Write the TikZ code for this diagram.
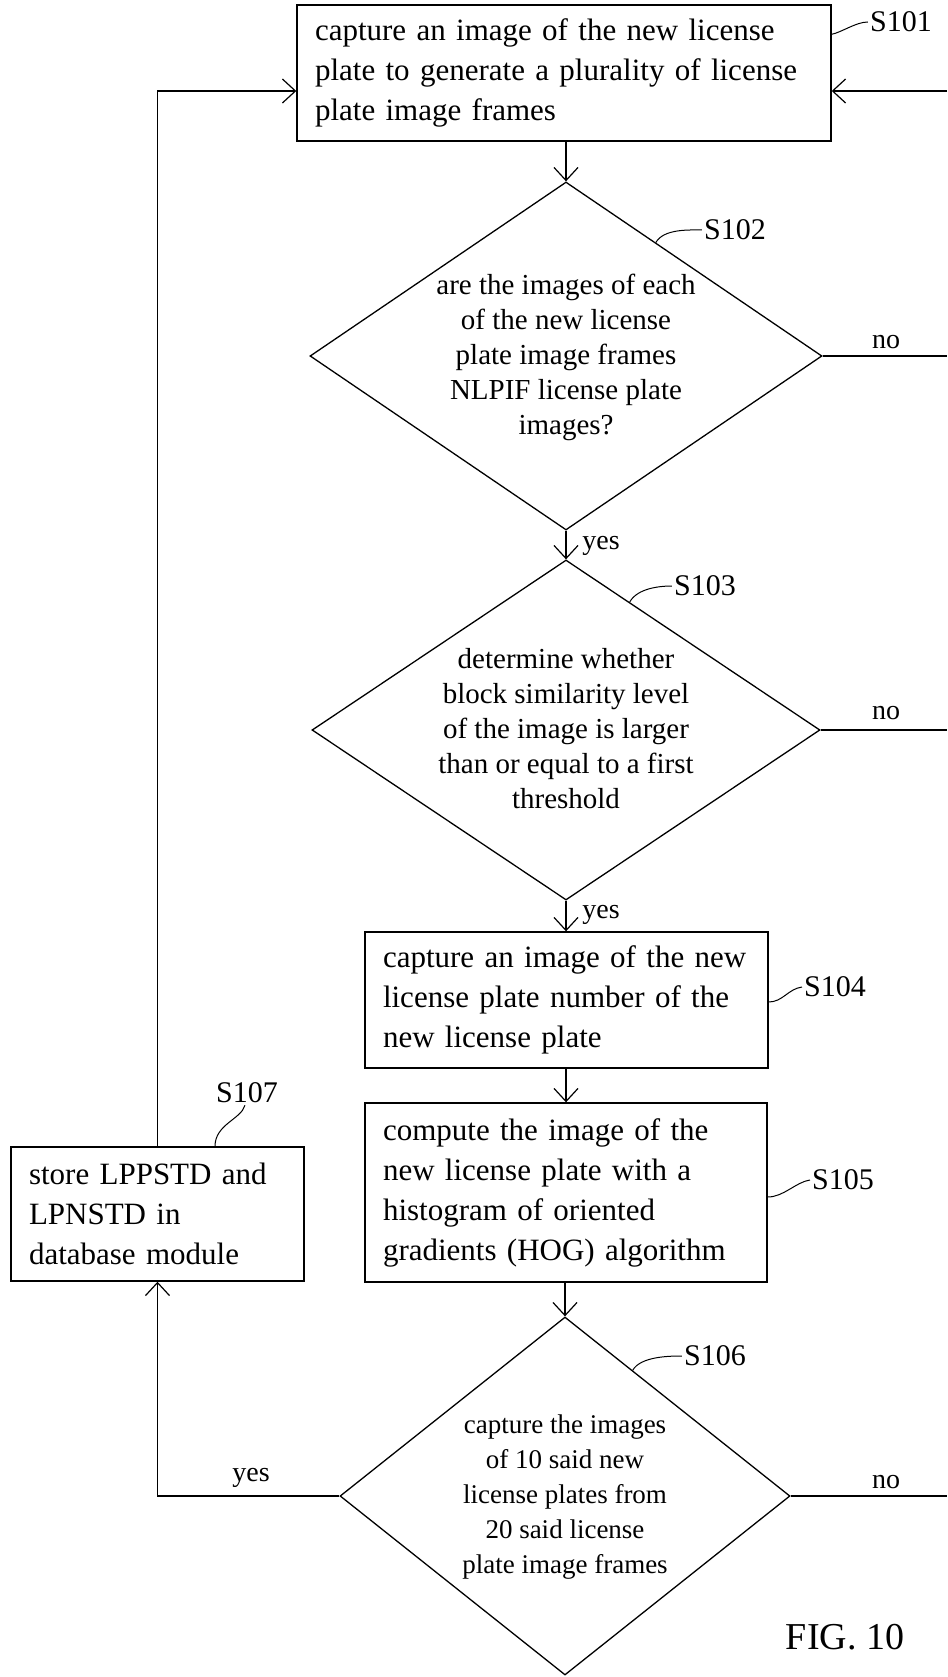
\documentclass[tikz,border=0pt]{standalone}
\usepackage{fontspec}
\setmainfont{Liberation Serif}
\usetikzlibrary{shapes.geometric,arrows.meta,calc}
\newcommand\dtext[1]{\smash{\makebox[0pt]{\raisebox{-0.25em}{\begin{tabular}{@{}c@{}}#1\end{tabular}}}}}
\tikzset{
  ln/.style={line width=1.2pt},
  box/.style={draw, line width=1.4pt, align=left, inner xsep=18pt, inner ysep=0pt,
     font=\fontsize{31}{40}\selectfont, text width=#1},
  dia/.style 2 args={draw, diamond, line width=1.3pt, inner sep=0pt,
     minimum width=#1, minimum height=#2, font=\fontsize{29}{35}\selectfont},
  arr/.style={ln, -{Straight Barb[length=13pt,width=24pt,line width=1.2pt]}},
  lbl/.style={font=\fontsize{30}{36}\selectfont, inner sep=2pt},
  yn/.style={font=\fontsize{28}{34}\selectfont, inner sep=1pt},
  sq/.style={line width=1pt},
}
\begin{document}
\begin{tikzpicture}[x=1pt,y=-1pt]
\useasboundingbox (0,0) rectangle (947,1677);
% nodes
\node[box=498pt, minimum height=136pt] (s101) at (564,73)
  {capture an image of the new license\\plate to generate a plurality of license\\plate image frames};
\node[dia={512pt}{348pt}] (s102) at (566,356)
  {\dtext{are the images of each\\of the new license\\plate image frames\\NLPIF license plate\\images?}};
\node[dia={508pt}{340pt}] (s103) at (566,730)
  {\dtext{determine whether\\block similarity level\\of the image is larger\\than or equal to a first\\threshold}};
\node[box=367pt, minimum height=136pt] (s104) at (566.5,1000)
  {capture an image of the new\\license plate number of the\\new license plate};
\node[box=366pt, minimum height=179pt] (s105) at (566,1192.5)
  {compute the image of the\\new license plate with a\\histogram of oriented\\gradients (HOG) algorithm};
\node[dia={450pt}{358pt}, font=\fontsize{27}{35}\selectfont] (s106) at (565,1496)
  {\dtext{capture the images\\of 10 said new\\license plates from\\20 said license\\plate image frames}};
\node[box=257pt, minimum height=134pt] (s107) at (157.5,1214)
  {store LPPSTD and\\LPNSTD in\\database module};
% step labels
\node[lbl] (l101) at (901,22) {S101};
\node[lbl] (l102) at (735,230) {S102};
\node[lbl] (l103) at (705,586) {S103};
\node[lbl] (l104) at (835,987) {S104};
\node[lbl] (l105) at (843,1180) {S105};
\node[lbl] (l106) at (715,1356) {S106};
\node[lbl] (l107) at (247,1093) {S107};
\draw[sq] ([yshift=-30pt]s101.north east) .. controls +(10,-2) and +(-12,0) .. (l101.west);
\draw[sq] ($(s102.north)!0.35!(s102.east)$) .. controls +(8,-14) and +(-12,0) .. (l102.west);
\draw[sq] ($(s103.north)!0.25!(s103.east)$) .. controls +(8,-14) and +(-12,0) .. (l103.west);
\draw[sq] ([yshift=-2pt]s104.east) .. controls +(14,0) and +(-14,2) .. (l104.west);
\draw[sq] ([yshift=-4.5pt]s105.east) .. controls +(16,0) and +(-14,2) .. (l105.west);
\draw[sq] ($(s106.north)!0.3!(s106.east)$) .. controls +(8,-14) and +(-12,0) .. (l106.west);
\draw[sq] ([xshift=57.5pt]s107.north) .. controls +(0,-22) and +(-4,14) .. ([xshift=-2pt]l107.south);
% main flow
\draw[arr] (s102.north |- s101.south) -- (s102.north);
\draw[arr] (s102.south) -- (s103.north);
\draw[arr] (s103.south) -- (s103.south |- s104.north);
\draw[arr] (s103.south |- s104.south) -- (s103.south |- s105.north);
\draw[arr] (s106.north |- s105.south) -- (s106.north);
% loop on the left
\coordinate (lx) at (157.5,91);
\draw[arr] (s106.west) -- (s106.west -| lx) -- (s107.south -| lx);
\draw[arr] (s107.north -| lx) -- (lx) -- (s101.west |- lx);
% right side
\coordinate (rx) at (947,91);
\draw[arr] (rx) -- (s101.east |- rx);
\draw[ln] (s102.east) -- (s102.east -| rx);
\draw[ln] (s103.east) -- (s103.east -| rx);
\draw[ln] (s106.east) -- (s106.east -| rx);
% yes / no
\node[yn] (y1) at (601,546) {yes};
\node[yn] (y2) at (601,915) {yes};
\node[yn] (y3) at (251,1478) {yes};
\node[yn] (n1) at (886,342) {no};
\node[yn] (n2) at (886,713) {no};
\node[yn] (n3) at (886,1482) {no};
\node[font=\fontsize{38}{44}\selectfont] (fig) at (845,1637) {FIG. 10};
\end{tikzpicture}
\end{document}
